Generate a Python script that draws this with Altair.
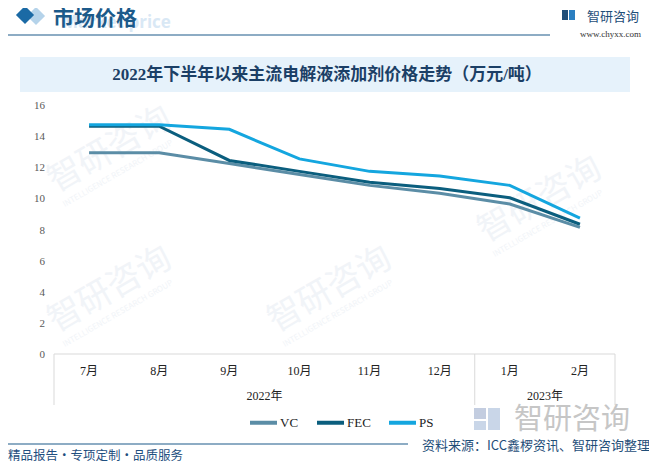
import altair as alt
import pandas as pd

months = ["7月", "8月", "9月", "10月", "11月", "12月", "1月", "2月"]
vc = [13.0, 13.0, 12.3, 11.6, 10.9, 10.4, 9.7, 8.2]
fec = [14.7, 14.7, 12.5, 11.8, 11.1, 10.7, 10.1, 8.4]
ps = [14.8, 14.8, 14.5, 12.6, 11.8, 11.5, 10.9, 8.8]
series = ["VC", "FEC", "PS"]
colors = ["#5b8da6", "#0b5e7e", "#14a6df"]
yticks = [0, 2, 4, 6, 8, 10, 12, 14, 16]
years = ["2022年", "2023年"]
year_anchor = ["10月", "2月"]
boundaries = [("7月", 0), ("1月", 0), ("2月", 1)]

FONT = "Liberation Serif, Noto Sans CJK SC"
SANS = "Noto Sans CJK SC"

rows = []
for name, vals in zip(series, [vc, fec, ps]):
    for m, v in zip(months, vals):
        rows.append({"month": m, "value": v, "series": name})
df = pd.DataFrame(rows)

xscale = alt.Scale(domain=months, range=[46, 607], paddingInner=0, paddingOuter=0)
yscale = alt.Scale(domain=[0, 16], range=[347, 98])

one = pd.DataFrame({"t": ["x"]})

def txt(text, x, y, size, color, weight="normal", align="left", font=SANS, angle=0, opacity=1.0, baseline="middle"):
    return alt.Chart(pd.DataFrame({"t": [text]})).mark_text(
        fontSize=size, color=color, fontWeight=weight, align=align, font=font,
        angle=angle, opacity=opacity, baseline=baseline
    ).encode(text="t:N", x=alt.value(x - 8), y=alt.value(y - 8))

def rect(x1, x2, y1, y2, color):
    return alt.Chart(one).mark_rect(color=color).encode(
        x=alt.value(x1 - 8), x2=alt.value(x2 - 8), y=alt.value(y1 - 8), y2=alt.value(y2 - 8))

def hline(x1, x2, y, color, w=1.2):
    return alt.Chart(one).mark_rule(color=color, strokeWidth=w).encode(
        x=alt.value(x1 - 8), x2=alt.value(x2 - 8), y=alt.value(y - 8))

layers = []

# faint watermarks
for (wx, wy) in [(110, 150), (110, 290), (330, 290), (540, 200)]:
    layers.append(txt("智研咨询", wx, wy, 34, "#f1f4f8", angle=330, align="center"))
    layers.append(txt("INTELLIGENCE RESEARCH GROUP", wx + 8, wy + 24, 8, "#f1f4f8", angle=330, align="center"))

# header
layers.append(txt("Market price", 62, 23, 17, "#d9e8f5", weight="bold", font="Open Sans"))
layers.append(alt.Chart(one).mark_point(shape="diamond", filled=True, size=330, color="#b5d3ea", opacity=1).encode(
    x=alt.value(28), y=alt.value(8)))
layers.append(alt.Chart(one).mark_point(shape="diamond", filled=True, size=330, color="#1b6aa5", opacity=1).encode(
    x=alt.value(17), y=alt.value(7)))
layers.append(txt("市场价格", 53, 19, 21, "#1c5a8a", weight="bold"))
layers.append(hline(8, 550, 35, "#1c5a8a"))
layers.append(rect(562, 568, 10, 20, "#1f4e79"))
layers.append(rect(569, 575, 10, 20, "#2b7fc1"))
layers.append(txt("智研咨询", 587, 17, 13, "#1f4e79"))
layers.append(txt("www.chyxx.com", 641, 34, 9, "#333333", align="right", font="Liberation Serif"))

# title box
layers.append(rect(20, 630, 57, 92, "#e6f2fb"))
layers.append(txt("2022年下半年以来主流电解液添加剂价格走势（万元/吨）", 327, 75, 17, "#1b3f66",
                  weight="bold", align="center", font=FONT))

# axis box
layers.append(alt.Chart(one).mark_rule(color="#d9d9d9", strokeWidth=1).encode(
    x=alt.value(46), x2=alt.value(607), y=alt.value(346)))
for m, bp in boundaries:
    layers.append(alt.Chart(pd.DataFrame({"month": [m]})).mark_rule(color="#d9d9d9", strokeWidth=1).encode(
        x=alt.X("month:N", scale=xscale, bandPosition=bp, axis=None),
        y=alt.value(346), y2=alt.value(397)))

# y tick labels
layers.append(alt.Chart(pd.DataFrame({"v": yticks})).mark_text(
    align="right", fontSize=11, color="#595959", font=FONT).encode(
    x=alt.value(37), y=alt.Y("v:Q", scale=yscale, axis=None), text="v:Q"))

# month labels
layers.append(alt.Chart(pd.DataFrame({"month": months})).mark_text(
    fontSize=12, color="#222222", font=FONT).encode(
    x=alt.X("month:N", scale=xscale, axis=None, sort=months), y=alt.value(363), text="month:N"))

# year labels
layers.append(alt.Chart(pd.DataFrame({"month": year_anchor, "year": years})).mark_text(
    fontSize=12, color="#222222", font=FONT).encode(
    x=alt.X("month:N", scale=xscale, axis=None, bandPosition=0), y=alt.value(388), text="year:N"))

# big logo bottom right
layers.append(rect(474, 486, 408, 419, "#c3cde0"))
layers.append(rect(488, 500, 408, 430, "#c9d6e8"))
layers.append(rect(474, 486, 421, 430, "#c9d6e8"))
layers.append(txt("智研咨询", 572, 420, 29, "#c6c6c6", align="center"))

# lines
layers.append(alt.Chart(df).mark_line(strokeWidth=3).encode(
    x=alt.X("month:N", scale=xscale, axis=None, sort=months),
    y=alt.Y("value:Q", scale=yscale, axis=None),
    color=alt.Color("series:N", scale=alt.Scale(domain=series, range=colors),
                    legend=alt.Legend(orient="none", legendX=240, legendY=399, direction="horizontal",
                                      title=None, symbolType="stroke", symbolStrokeWidth=4,
                                      symbolSize=729, labelFont="Liberation Serif", labelFontSize=13,
                                      labelColor="#222222", columnPadding=10, labelOffset=1,
                                      padding=0)),
    order=alt.Order("series:N")))

# footer
layers.append(hline(8, 408, 444, "#1c5a8a"))
layers.append(txt("资料来源：ICC鑫椤资讯、智研咨询整理", 650, 446, 13, "#1f4e79", align="right"))
layers.append(txt("精品报告・专项定制・品质服务", 8, 456, 12.5, "#1f4f80"))

chart = alt.layer(*layers).properties(
    width=641, height=455, padding=0, autosize=alt.AutoSizeParams(type="none"),
    background="white"
).configure_view(stroke=None)

chart.save("out.html", embed_options={"renderer": "svg", "actions": False})
